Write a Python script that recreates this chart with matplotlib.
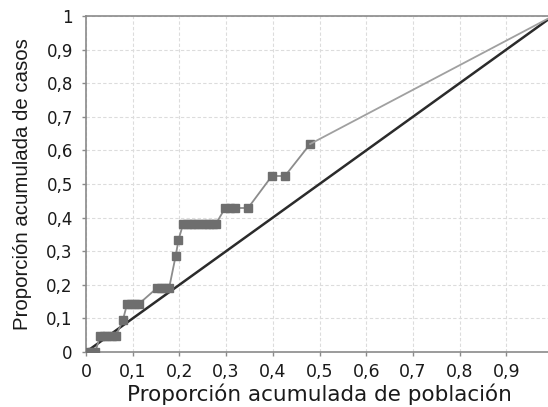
import matplotlib
matplotlib.use("Agg")
import matplotlib.pyplot as plt
from matplotlib.ticker import FixedLocator

# Cumulative proportion of population (x) and of cases (y, out of 21 cases)
pob_acum = [0.0, 0.012, 0.020,
            0.030, 0.038, 0.046, 0.055, 0.064,
            0.079,
            0.088, 0.096, 0.104, 0.113,
            0.152, 0.160, 0.169, 0.178,
            0.192, 0.198,
            0.208, 0.216, 0.224, 0.232, 0.240, 0.248, 0.256, 0.264, 0.272, 0.278,
            0.298, 0.308, 0.319, 0.347,
            0.398, 0.426,
            0.480,
            1.0]
casos = [0, 0, 0,
         1, 1, 1, 1, 1,
         2,
         3, 3, 3, 3,
         4, 4, 4, 4,
         6, 7,
         8, 8, 8, 8, 8, 8, 8, 8, 8, 8,
         9, 9, 9, 9,
         11, 11,
         13,
         21]
total_casos = 21
casos_acum = [c / total_casos for c in casos]

ticks = [0.0, 0.1, 0.2, 0.3, 0.4, 0.5, 0.6, 0.7, 0.8, 0.9, 1.0]
tick_labels = ["0", "0,1", "0,2", "0,3", "0,4", "0,5", "0,6", "0,7", "0,8", "0,9", "1"]

fig = plt.figure(figsize=(5.48, 4.07), dpi=100)
ax = fig.add_axes([86 / 548, 55 / 407, 467 / 548, 336 / 407])

ax.set_xlim(0, 1)
ax.set_ylim(0, 1)

ax.grid(True, color="#dcdcdc", linestyle=(0, (3, 2)), linewidth=0.8)
ax.set_axisbelow(True)

# Line of equality
ax.plot([0, 1], [0, 1], color="#2b2b2b", linewidth=1.8, zorder=3)

# Concentration curve
ax.plot(pob_acum[:-1], casos_acum[:-1], color="#8c8c8c", linewidth=1.3,
        marker="s", markersize=5.5, markerfacecolor="#6e6e6e",
        markeredgecolor="#6e6e6e", zorder=4)
ax.plot(pob_acum[-2:], casos_acum[-2:], color="#a0a0a0", linewidth=1.3, zorder=4)

ax.xaxis.set_major_locator(FixedLocator(ticks))
ax.yaxis.set_major_locator(FixedLocator(ticks))
ax.set_xticklabels(tick_labels)
ax.set_yticklabels(tick_labels)

for side in ["left", "bottom", "top", "right"]:
    ax.spines[side].set_color("#8a8a8a")
    ax.spines[side].set_linewidth(1.2)

ax.tick_params(axis="both", direction="out", length=3, width=1, color="#8a8a8a",
               labelcolor="#1a1a1a")
ax.tick_params(axis="x", labelsize=12.5, pad=5)
ax.tick_params(axis="y", labelsize=12, pad=6.5)

ax.set_xlabel("Proporción acumulada de población", fontsize=15.5,
              color="#1a1a1a", labelpad=2)
ax.set_ylabel("Proporción acumulada de casos", fontsize=14.7,
              family="Liberation Sans", color="#1a1a1a", labelpad=10)

fig.savefig("out.png", dpi=100)
